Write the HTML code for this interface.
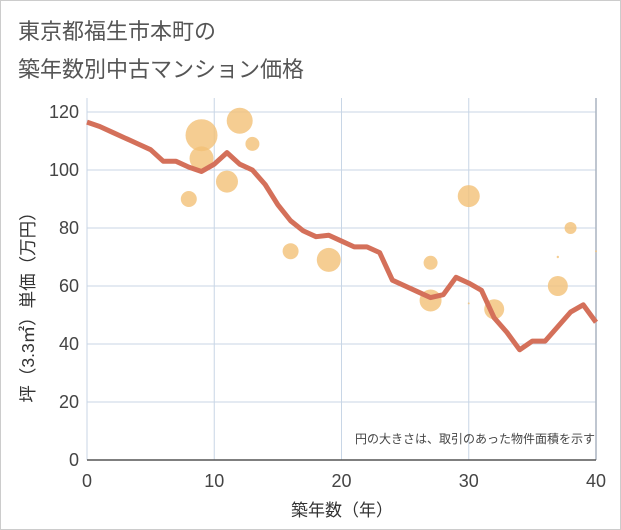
<!DOCTYPE html>
<html><head><meta charset="utf-8"><style>
body{margin:0;background:#fff;}
svg{display:block;font-family:"Liberation Sans","Noto Sans CJK JP",sans-serif;}
</style></head><body>
<svg width="621" height="530">
<rect x="0.5" y="0.5" width="620" height="529" fill="#fff" stroke="#ccc"/>
<text x="18" y="39" font-size="22" fill="#555">東京都福生市本町の</text>
<text x="18" y="77" font-size="22" fill="#555">築年数別中古マンション価格</text>
<g id="grid"></g><g id="bubbles"></g><g id="line"></g><g id="axes"></g>
<text x="595" y="443" font-size="12" fill="#444" text-anchor="end">円の大きさは、取引のあった物件面積を示す</text>
<text x="342" y="516" font-size="17" fill="#333" text-anchor="middle">築年数（年）</text>
<text transform="translate(34,303) rotate(-90)" font-size="17.5" fill="#333" text-anchor="middle">坪（3.3㎡）単価（万円）</text>
</svg>
<script>
const xTicks=[0,10,20,30,40];
const yTicks=[0,20,40,60,80,100,120];
const lineYears=[0,1,2,3,4,5,6,7,8,9,10,11,12,13,14,15,16,17,18,19,20,21,22,23,24,25,26,27,28,29,30,31,32,33,34,35,36,37,38,39,40];
const linePrices=[116.5,115,113,111,109,107,103,103,101,99.5,102,106,102,100,95,88,82.5,79,77,77.5,75.5,73.5,73.5,71.5,62,60,58,56,57,63,61,58.5,49,44,38,41,41,46,51,53.5,47.5];
const bubbleYears=[8,9,9,11,12,13,16,19,27,27,30,32,37,38,37,30,40];
const bubblePrices=[90,112,104,96,117,109,72,69,68,55,91,52,60,80,70,54,72];
const bubbleRadii=[8,16,12,11,13,7,8,12,7,11,11,10,10,6,1.2,1,1];
const NS="http://www.w3.org/2000/svg";
const X=v=>87+v*(596-87)/40, Y=v=>460-v*(460-112)/120;
function mk(t,a,p){const e=document.createElementNS(NS,t);for(const k in a)e.setAttribute(k,a[k]);p.appendChild(e);return e;}
const g=document.getElementById('grid'),ax=document.getElementById('axes');
yTicks.forEach(v=>{const l=mk('line',{x1:87,x2:596,y1:Y(v),y2:Y(v),stroke:'#c8d6e6','stroke-width':1},g);


const t=mk('text',{x:79,y:Y(v)+6,'font-size':18,fill:'#444','text-anchor':'end'},ax);t.textContent=v;

});
xTicks.forEach(v=>{const last=v===xTicks[xTicks.length-1];const l=mk('line',{x1:X(v),x2:X(v),y1:98,y2:460,stroke:last?'#aab4c0':'#c8d6e6','stroke-width':last?1.5:1},g);


const t=mk('text',{x:X(v),y:487,'font-size':18,fill:'#444','text-anchor':'middle'},ax);t.textContent=v;

});
const b=mk('line',{x1:87,x2:596,y1:460,y2:460,stroke:'#555','stroke-width':1.5},ax);


const bg=document.getElementById('bubbles');
bubbleYears.forEach((yr,i)=>{const c=mk('circle',{cx:X(yr),cy:Y(bubblePrices[i]),r:bubbleRadii[i],fill:'#f2c177','fill-opacity':0.8},bg);

});
const p=mk('polyline',{points:lineYears.map((yr,i)=>X(yr)+','+Y(linePrices[i])).join(' '),fill:'none',stroke:'#d4705a','stroke-width':5,'stroke-linejoin':'round'},document.getElementById('line'));


</script>
</body></html>
